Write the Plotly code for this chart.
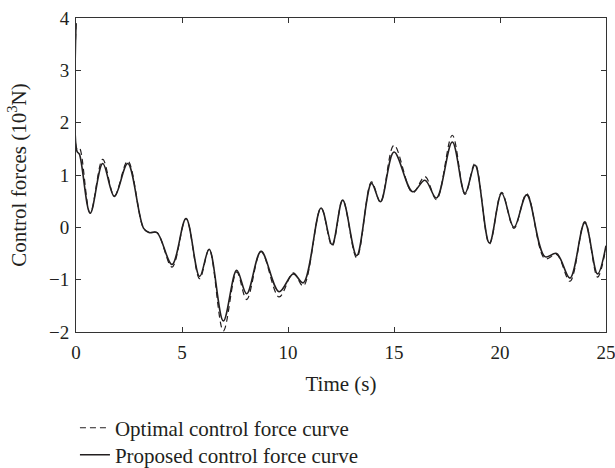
import plotly.graph_objects as go

# Time points (s) and control force values (10^3 N)
time_s = [0, 0.05, 0.16, 0.67, 1.26, 1.81, 2.44, 3.19, 3.45, 3.82, 4.53, 5.19, 5.83, 6.28,
          6.95, 7.58, 8.05, 8.73, 9.58, 10.25, 10.72, 11.56, 12.08, 12.58, 13.24, 13.94,
          14.36, 15.0, 15.88, 16.46, 17.0, 17.75, 18.35, 18.82, 19.5, 20.08, 20.66, 21.26,
          22.12, 22.67, 23.3, 24.0, 24.6, 25.0]

proposed_force = [3.9, 1.45, 1.4, 0.27, 1.22, 0.59, 1.22, -0.02, -0.1, -0.1, -0.71, 0.17,
                  -0.94, -0.42, -1.79, -0.82, -1.27, -0.46, -1.23, -0.89, -1.06, 0.37, -0.33,
                  0.52, -0.54, 0.84, 0.49, 1.44, 0.68, 0.90, 0.56, 1.63, 0.65, 1.19, -0.30,
                  0.65, 0.0, 0.62, -0.56, -0.50, -0.97, 0.09, -0.89, -0.35]

optimal_force = [3.9, 1.5, 1.52, 0.27, 1.30, 0.6, 1.27, -0.02, -0.1, -0.1, -0.76, 0.17,
                 -0.98, -0.42, -1.98, -0.85, -1.38, -0.46, -1.33, -0.87, -1.12, 0.37, -0.36,
                 0.52, -0.58, 0.87, 0.48, 1.57, 0.66, 0.97, 0.53, 1.76, 0.63, 1.22, -0.32,
                 0.67, -0.02, 0.64, -0.60, -0.52, -1.03, 0.11, -0.95, -0.38]

x_ticks = [0, 5, 10, 15, 20, 25]
y_ticks = [-2, -1, 0, 1, 2, 3, 4]

FONT = "Liberation Serif"
INK = "#231f20"

fig = go.Figure()
fig.add_trace(go.Scatter(
    x=time_s, y=optimal_force, mode="lines", name="Optimal control force curve",
    line=dict(color=INK, width=1.2, dash="6px,4px", shape="spline", smoothing=1.0),
    legend="legend",
))
fig.add_trace(go.Scatter(
    x=time_s, y=proposed_force, mode="lines", name="Proposed control force curve",
    line=dict(color=INK, width=1.6, shape="spline", smoothing=1.0),
    legend="legend2",
))

axis_common = dict(
    showline=True, linecolor="#333333", linewidth=1, mirror="ticks",
    ticks="inside", ticklen=5, tickwidth=1, tickcolor="#333333",
    showgrid=False, zeroline=False, ticklabeloverflow="allow",
    tickfont=dict(family=FONT, size=19, color=INK),
)

fig.update_layout(
    width=615, height=468,
    margin=dict(l=76, r=9, t=18, b=136, autoexpand=False),
    paper_bgcolor="white", plot_bgcolor="white",
    font=dict(family=FONT, size=21, color=INK),
    xaxis=dict(range=[0, 25], tickvals=x_ticks, ticklabelstandoff=3,
               title=dict(text="Time (s)", font=dict(family=FONT, size=21), standoff=14),
               **axis_common),
    yaxis=dict(range=[-2, 4], tickvals=y_ticks, ticklabelstandoff=2,
               title=dict(text="Control forces (10<sup>3</sup>N)", font=dict(family=FONT, size=21),
                          standoff=16),
               **axis_common),
    legend=dict(x=-0.002, xanchor="left", y=-0.306, yanchor="middle",
                font=dict(family=FONT, size=21, color=INK), bgcolor="rgba(0,0,0,0)"),
    legend2=dict(x=-0.002, xanchor="left", y=-0.392, yanchor="middle",
                 font=dict(family=FONT, size=21, color=INK), bgcolor="rgba(0,0,0,0)"),
    showlegend=True,
)

fig.write_html("out.html")
